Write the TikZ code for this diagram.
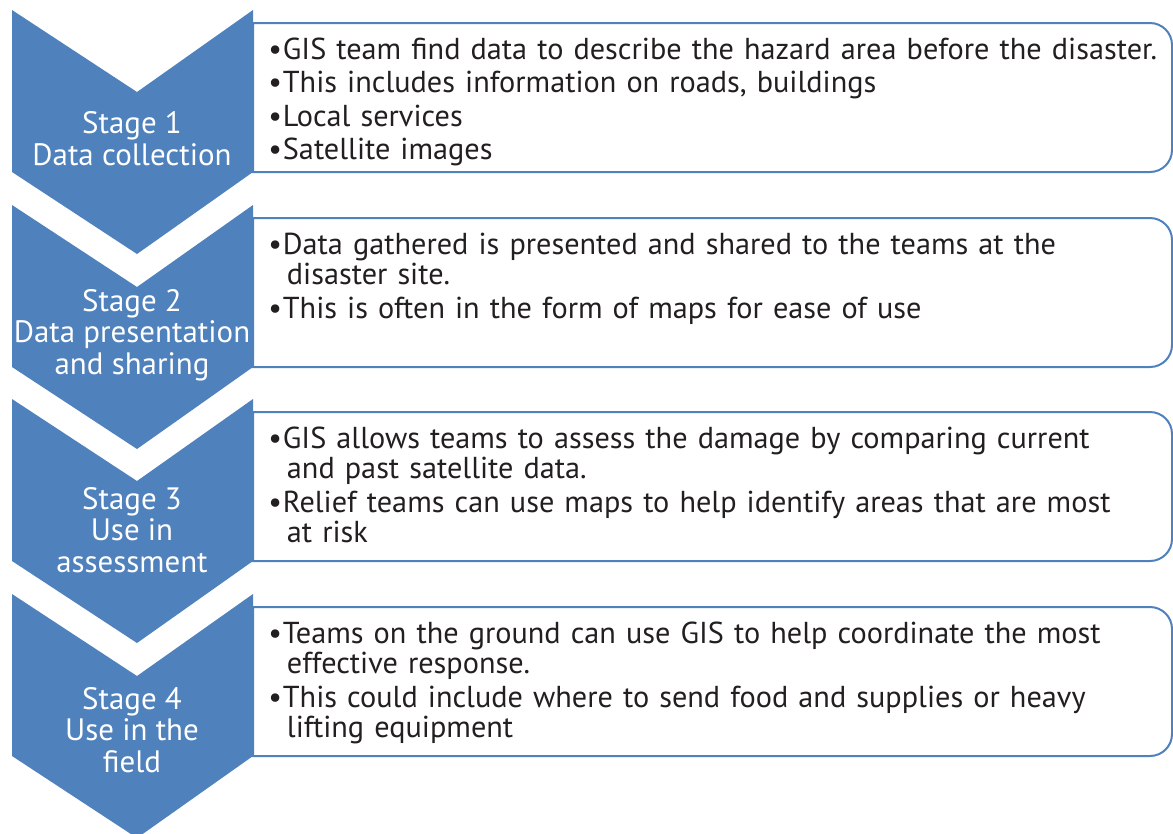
\documentclass[tikz,border=0pt]{standalone}
\usepackage{fontspec}
\usepackage{xcolor}
\setmainfont{PT Sans}
\definecolor{stageblue}{HTML}{4F81BD}
\definecolor{infoink}{HTML}{231F20}
\newcommand{\bpoint}[1]{\hangindent=14pt\hangafter=1\noindent\makebox[11pt][l]{\textbullet}#1\par}

\begin{document}
\begin{tikzpicture}[x=0.75pt,y=-0.75pt,
		stagelabel/.style={text=white,align=center,inner sep=0pt,font=\fontsize{23.2}{23.8}\selectfont},
		infotext/.style={anchor=base west,inner sep=0pt,text width=680pt,text=infoink,font=\fontsize{22.7}{22.9}\selectfont},
		infobox/.style={draw=stageblue,fill=white,line width=1.5pt}]
				\useasboundingbox (0,0) rectangle (1173,833);
				% chevrons
				\fill [stageblue] (12,10)--(137,92)--(253,10)--(253,172)--(137,254)--(12,172)--cycle;
				\fill [stageblue] (12,205)--(137,287)--(253,205)--(253,367)--(137,449)--(12,367)--cycle;
				\fill [stageblue] (12,399)--(137,481)--(253,399)--(253,561)--(137,643)--(12,561)--cycle;
				\fill [stageblue] (12,594)--(137,676)--(253,594)--(253,756)--(137,838)--(12,756)--cycle;
				% boxes
				\draw [infobox] (253,23)--(1150,23) arc[start angle=-90,end angle=0,radius=22]--(1172,150) arc[start angle=0,end angle=90,radius=22]--(253,172)--cycle;
				\draw [infobox] (253,218)--(1150,218) arc[start angle=-90,end angle=0,radius=22]--(1172,345) arc[start angle=0,end angle=90,radius=22]--(253,367)--cycle;
				\draw [infobox] (253,412)--(1150,412) arc[start angle=-90,end angle=0,radius=22]--(1172,539) arc[start angle=0,end angle=90,radius=22]--(253,561)--cycle;
				\draw [infobox] (253,607)--(1150,607) arc[start angle=-90,end angle=0,radius=22]--(1172,734) arc[start angle=0,end angle=90,radius=22]--(253,756)--cycle;
				% stage names
				\node [stagelabel] (stage1) at (132,139){Stage 1\\Data collection};
				\node [stagelabel] (stage2) at (132,335){Stage 2\\Data presentation\\and sharing};
				\node [stagelabel] (stage3) at (132,530){Stage 3\\Use in\\assessment};
				\node [stagelabel] (stage4) at (132,730){Stage 4\\Use in the\\field};
				% bullet texts
				\node [infotext] (info1) at (268,59){\setlength{\parskip}{2.25pt}%
					\bpoint{GIS team find data to describe the hazard area before the disaster.}%
					\bpoint{This includes information on roads, buildings}%
					\bpoint{Local services}%
					\bpoint{Satellite images}};
				\node [infotext] (info2) at (268,254){\setlength{\parskip}{2.25pt}%
					\bpoint{Data gathered is presented and shared to the teams at the\newline disaster site.}%
					\bpoint{This is often in the form of maps for ease of use}};
				\node [infotext] (info3) at (268,448){\setlength{\parskip}{2.25pt}%
					\bpoint{GIS allows teams to assess the damage by comparing current\newline and past satellite data.}%
					\bpoint{Relief teams can use maps to help identify areas that are most\newline at risk}};
				\node [infotext] (info4) at (268,643){\setlength{\parskip}{2.25pt}%
					\bpoint{Teams on the ground can use GIS to help coordinate the most\newline effective response.}%
					\bpoint{This could include where to send food and supplies or heavy\newline lifting equipment}};
			\end{tikzpicture}
\end{document}
